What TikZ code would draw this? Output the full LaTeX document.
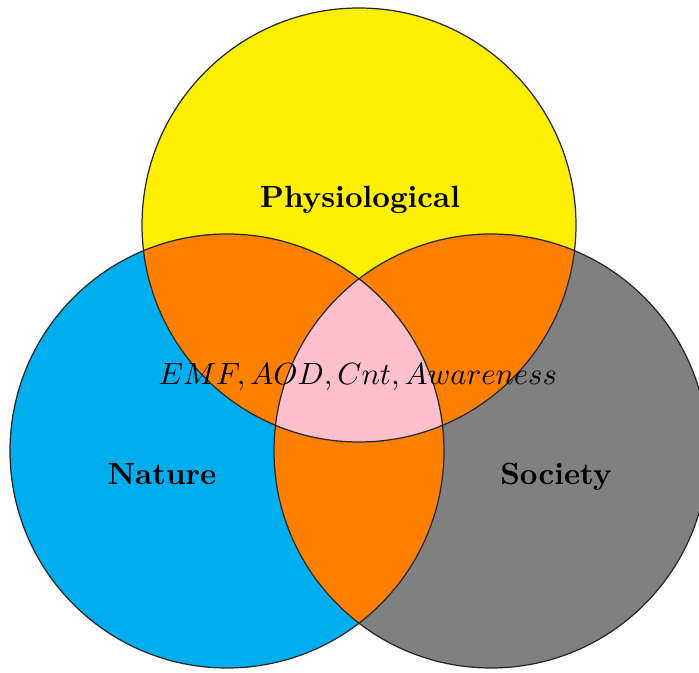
\documentclass[tikz,border=0pt]{standalone}
\definecolor{vyellow}{RGB}{255,240,0}
\definecolor{vcyan}{RGB}{0,174,239}
\definecolor{vgray}{RGB}{128,128,128}
\definecolor{vorange}{RGB}{255,128,0}
\definecolor{vpink}{RGB}{255,192,203}
\begin{document}
\begin{tikzpicture}[x=0.326pt,y=-0.326pt,
  outline/.style={draw=black!85,line width=0.4pt},
  setlabel/.style={font=\bfseries,inner sep=1pt,anchor=base}]
\useasboundingbox (0,0) rectangle (699,673);
\def\rr{70.742pt}
\coordinate (P) at (359,225);
\coordinate (N) at (227,451);
\coordinate (S) at (491,451);
% base fills
\fill[vgray] (S) circle[radius=\rr];
\fill[vcyan] (N) circle[radius=\rr];
\fill[vyellow] (P) circle[radius=\rr];
% pairwise intersections
\begin{scope}
  \clip (P) circle[radius=\rr];
  \fill[vorange] (N) circle[radius=\rr];
  \fill[vorange] (S) circle[radius=\rr];
\end{scope}
\begin{scope}
  \clip (N) circle[radius=\rr];
  \fill[vorange] (S) circle[radius=\rr];
\end{scope}
% triple intersection
\begin{scope}
  \clip (P) circle[radius=\rr];
  \clip (N) circle[radius=\rr];
  \fill[vpink] (S) circle[radius=\rr];
\end{scope}
% outlines
\draw[outline] (P) circle[radius=\rr];
\draw[outline] (N) circle[radius=\rr];
\draw[outline] (S) circle[radius=\rr];
% labels
\node[setlabel] (phys) at (360,208) {Physiological};
\node[setlabel] (nat) at (162,485) {Nature};
\node[setlabel] (soc) at (556,485) {Society};
\node[inner sep=1pt,anchor=base] (core) at (358,385) {$EMF, AOD, Cnt, Awareness$};
\end{tikzpicture}
\end{document}
